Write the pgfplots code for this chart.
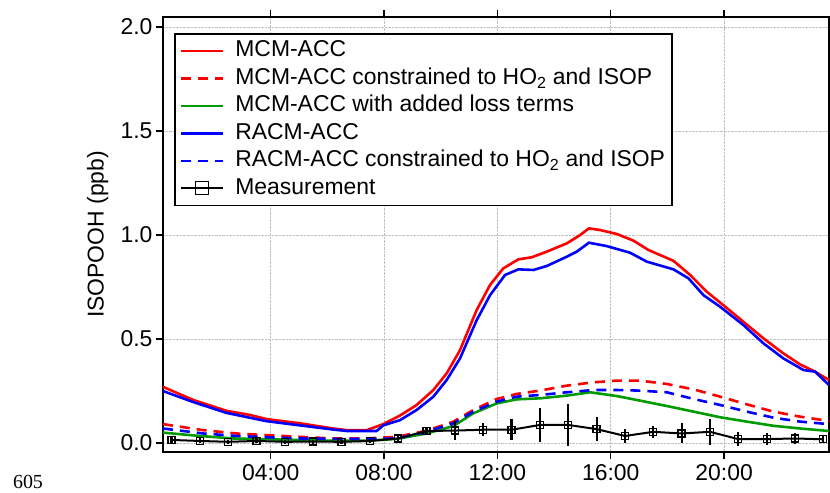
\documentclass[border=0pt]{standalone}
\usepackage{fontspec}
\setmainfont{Liberation Sans}
\newfontfamily\seriffont{Liberation Serif}
\usepackage{pgfplots}
\usepackage{pgfplotstable}
\pgfplotsset{compat=1.18}
\definecolor{mred}{RGB}{255,0,0}
\definecolor{mgreen}{RGB}{0,155,0}
\definecolor{mblue}{RGB}{0,0,255}
\pgfplotsset{
  longline legend/.style={legend image code/.code={\draw[mark repeat=2,mark phase=2,##1] plot coordinates {(0bp,0bp)(21bp,0bp)(42bp,0bp)};}},
  meas legend/.style={legend image code/.code={\draw[mark repeat=2,mark phase=2,##1,mark size=6.5bp] plot coordinates {(0bp,0bp)(21bp,0bp)(42bp,0bp)};}},
}

\pgfplotstableread{
h v
0.2 0.27
1.27 0.207
2.44 0.155
3.27 0.135
3.86 0.115
5.03 0.095
6.2 0.07
6.68 0.062
7.39 0.062
7.97 0.091
8.56 0.132
9.15 0.183
9.74 0.255
10.21 0.335
10.68 0.447
11.27 0.64
11.74 0.76
12.21 0.84
12.74 0.883
13.21 0.893
13.74 0.92
14.45 0.96
14.92 1.0
15.23 1.032
15.62 1.024
16.21 1.005
16.8 0.973
17.33 0.928
18.21 0.876
18.8 0.808
19.39 0.727
19.97 0.663
20.68 0.583
21.39 0.503
22.09 0.431
22.68 0.378
23.21 0.343
23.7 0.303
}\mcm

\pgfplotstableread{
h v
0.2 0.091
1.62 0.062
2.8 0.046
3.85 0.038
5.03 0.03
6.2 0.022
7.38 0.022
8.45 0.03
9.5 0.059
10.45 0.103
11.15 0.159
11.98 0.212
12.68 0.236
13.5 0.252
14.45 0.276
15.39 0.292
16.21 0.3
17.03 0.3
17.98 0.284
18.92 0.258
19.86 0.223
20.8 0.186
21.74 0.151
22.68 0.127
23.7 0.106
}\mcmc

\pgfplotstableread{
h v
0.2 0.05
1.5 0.034
2.68 0.022
3.85 0.018
5.03 0.015
6.2 0.011
7.38 0.011
8.45 0.02
9.5 0.046
10.45 0.082
11.15 0.143
11.98 0.191
12.68 0.21
13.5 0.215
14.45 0.228
15.27 0.244
16.21 0.226
17.03 0.204
17.98 0.178
18.92 0.151
19.86 0.124
20.8 0.103
21.74 0.083
22.68 0.07
23.7 0.058
}\mcml

\pgfplotstableread{
h v
0.2 0.25
1.27 0.197
2.44 0.145
3.86 0.105
5.03 0.085
6.2 0.065
6.68 0.058
7.74 0.058
7.97 0.085
8.56 0.11
9.15 0.159
9.74 0.223
10.21 0.303
10.68 0.407
11.27 0.591
11.74 0.711
12.27 0.808
12.74 0.835
13.27 0.832
13.74 0.851
14.45 0.896
14.8 0.92
15.23 0.963
15.85 0.947
16.68 0.915
17.27 0.872
18.21 0.835
18.74 0.792
19.27 0.711
19.86 0.655
20.68 0.567
21.39 0.479
22.09 0.407
22.8 0.351
23.21 0.343
23.7 0.279
}\racm

\pgfplotstableread{
h v
0.2 0.07
1.62 0.046
2.8 0.034
3.85 0.028
5.03 0.022
6.2 0.02
7.38 0.02
8.45 0.022
9.5 0.054
10.45 0.095
11.15 0.151
11.98 0.199
12.68 0.223
13.5 0.231
14.45 0.244
15.39 0.255
16.21 0.255
17.03 0.252
17.98 0.244
18.92 0.212
19.86 0.183
20.8 0.151
21.74 0.122
22.68 0.103
23.7 0.091
}\racmc

\pgfplotstableread{
h v e
0.5 0.015 0.015
1.5 0.01 0.012
2.5 0.006 0.01
3.5 0.01 0.012
4.5 0.006 0.01
5.5 0.007 0.01
6.5 0.006 0.01
7.5 0.01 0.01
8.5 0.022 0.015
9.5 0.058 0.02
10.5 0.06 0.045
11.5 0.064 0.03
12.5 0.064 0.05
13.5 0.087 0.083
14.5 0.087 0.1
15.5 0.067 0.058
16.5 0.034 0.033
17.5 0.054 0.028
18.5 0.046 0.048
19.5 0.054 0.062
20.5 0.019 0.032
21.5 0.019 0.03
22.5 0.022 0.028
23.5 0.018 0.02
}\meas

\begin{document}
\begin{tikzpicture}
\path[use as bounding box] (-163bp,-41bp) rectangle (667bp,452bp);
\begin{axis}[
  at={(0,0)}, anchor=south west,
  scale only axis, width=666bp, height=435bp,
  xmin=0.2, xmax=23.7, ymin=-0.043, ymax=2.048,
  xtick={4,8,12,16,20}, xticklabels={04:00,08:00,12:00,16:00,20:00},
  ytick={0,0.5,1,1.5,2},
  yticklabel style={/pgf/number format/.cd, fixed, fixed zerofill, precision=1},
  /pgf/number format/assume math mode=true,
  tick label style={font=\fontsize{23}{27}\selectfont},
  xticklabel style={yshift=-2bp},
  tick align=outside,
  xtick pos=both, xticklabel pos=bottom,
  ytick pos=left,
  major tick length=7bp,
  tick style={black, line width=1.3bp},
  grid=major, grid style={densely dotted, gray!50, line width=0.6bp},
  axis line style={line width=1.6bp},
  ylabel={ISOPOOH (ppb)},
  ylabel style={font=\fontsize{23}{27}\selectfont, at={(axis description cs:-0.098,0.5)}, anchor=center},
  legend style={at={(axis description cs:0.0165,0.963)}, anchor=north west,
    font=\fontsize{23}{27}\selectfont, draw=black, line width=1.6bp,
    inner xsep=5bp, inner ysep=4bp, row sep=1.5bp, column sep=9bp,
    nodes={text height=17bp, text depth=5bp}},
  legend cell align=left,
  longline legend,
]
\addplot[mred, line width=2.6bp] table[x=h,y=v] {\mcm};
\addlegendentry{MCM-ACC}
\addplot[mred, line width=2.6bp, dash pattern=on 10bp off 7bp] table[x=h,y=v] {\mcmc};
\addlegendentry{MCM-ACC constrained to HO\textsubscript{2} and ISOP}
\addplot[mgreen, line width=2.6bp] table[x=h,y=v] {\mcml};
\addlegendentry{MCM-ACC with added loss terms}
\addplot[mblue, line width=2.6bp] table[x=h,y=v] {\racm};
\addlegendentry{RACM-ACC}
\addplot[mblue, line width=2.6bp, dash pattern=on 10bp off 7bp] table[x=h,y=v] {\racmc};
\addlegendentry{RACM-ACC constrained to HO\textsubscript{2} and ISOP}
\addplot[black, line width=2bp, mark=square, mark size=3.5bp, mark options={solid, line width=1.3bp},
  meas legend,
  error bars/.cd, y dir=both, y explicit, error mark=none, error bar style={line width=2.2bp}]
  table[x=h,y=v,y error=e] {\meas};
\addlegendentry{Measurement}
\end{axis}
\node[font=\seriffont\fontsize{20}{24}\selectfont] at (-135bp,-30bp) {605};
\end{tikzpicture}
\end{document}
